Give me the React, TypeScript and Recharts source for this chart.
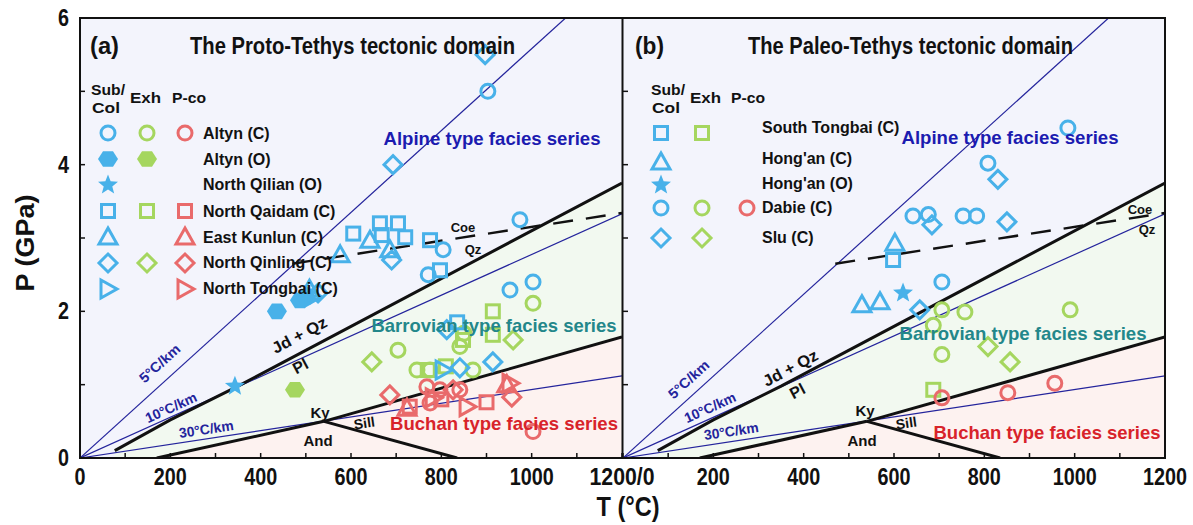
import React from 'react';
import { ComposedChart, XAxis, YAxis, Area, Line, Scatter } from 'recharts';

// ---- data: [T (°C), P (GPa)] ----
// (a) Proto-Tethys
const protoSubCircle = [[903, 5.0], [974, 3.25], [804, 2.84], [771, 2.5], [952, 2.29], [1003, 2.4]];
const protoSubHex = [[436, 2.0], [487, 2.15], [500, 2.2]];
const protoSubStar = [[343, 0.98]];
const protoSubSquare = [[605, 3.06], [664, 3.2], [704, 3.2], [668, 3.04], [720, 3.01], [775, 2.97], [797, 2.56], [835, 1.85]];
const protoSubTri = [[642, 2.97], [686, 2.84], [576, 2.77], [508, 2.3]];
const protoSubDiamond = [[693, 4.0], [897, 5.5], [690, 2.7], [527, 2.25], [812, 1.75], [841, 1.23], [914, 1.31]];
const protoSubRtri = [[515, 2.2], [804, 1.2]];
const protoExhCircle = [[704, 1.47], [1003, 2.11], [746, 1.2], [775, 1.2], [841, 1.52], [870, 1.2], [850, 1.7]];
const protoExhHex = [[476, 0.93]];
const protoExhSquare = [[914, 2.0], [914, 1.68], [848, 1.61], [770, 1.2], [810, 1.25]];
const protoExhDiamond = [[646, 1.31], [959, 1.61]];
const protoPcoCircle = [[1003, 0.36], [768, 0.97], [797, 0.93], [841, 0.93], [775, 0.75]];
const protoPcoSquare = [[900, 0.76], [730, 0.7], [800, 0.8]];
const protoPcoTri = [[724, 0.68], [945, 1.0]];
const protoPcoDiamond = [[686, 0.86], [956, 0.83], [826, 0.93]];
const protoPcoRtri = [[952, 1.02], [857, 0.7], [782, 0.82]];

// (b) Paleo-Tethys
const paleoSubSquare = [[598, 2.7]];
const paleoSubTri = [[602, 2.93], [529, 2.09], [569, 2.13]];
const paleoSubStar = [[620, 2.25]];
const paleoSubCircle = [[985, 4.5], [808, 4.02], [642, 3.3], [676, 3.32], [753, 3.3], [783, 3.3], [706, 2.4]];
const paleoSubDiamond = [[830, 3.8], [850, 3.22], [684, 3.18], [657, 2.02]];
const paleoExhSquare = [[687, 0.93]];
const paleoExhCircle = [[706, 2.02], [757, 1.99], [990, 2.02], [706, 1.41], [687, 1.81]];
const paleoExhDiamond = [[808, 1.52], [857, 1.31]];
const paleoPcoCircle = [[706, 0.82], [852, 0.89], [956, 1.02]];

// reaction / geotherm lines
const jdQzLine = [[77, 0.1], [200, 0.52], [350, 0.98], [1200, 3.75]];
const coeQzLine = [[470, 2.65], [1200, 3.34]];
const kyAndLine = [[170, 0], [540, 0.5]];
const andSillLine = [[540, 0.5], [835, 0]];
const kySillLine = [[540, 0.5], [1200, 1.65]];
const buchanEdge = [[170, 0], [540, 0.5], [1200, 1.65]];
const geo5 = [[0, 0], [1075, 6]];
const geo10 = [[0, 0], [1200, 3.33]];
const geo30 = [[0, 0], [1200, 1.12]];

const tTicks = [0, 100, 200, 300, 400, 500, 600, 700, 800, 900, 1000, 1100, 1200];
const pTicks = [0, 1, 2, 3, 4, 5, 6];

const pts = (a: number[][]) => a.map(([T, P]) => ({ T, P }));

const FONT = "'Liberation Sans', Arial, sans-serif";
const BLUE = '#48b1e9';
const GREEN = '#a5d65f';
const RED = '#e96a6b';
const NAVY = '#24249c';
const BG_TOP = '#f3f4fc';
const BG_MID = '#f2f9f0';
const BG_LOW = '#fdf2f0';

type Kind = 'circle' | 'hex' | 'star' | 'square' | 'tri' | 'diamond' | 'rtri';

function marker(kind: Kind, color: string, cx: number, cy: number, key?: any) {
  const sw = 3;
  switch (kind) {
    case 'circle':
      return <circle key={key} cx={cx} cy={cy} r={7} fill="none" stroke={color} strokeWidth={sw} />;
    case 'square':
      return <rect key={key} x={cx - 6.5} y={cy - 6.5} width={13} height={13} fill="none" stroke={color} strokeWidth={sw} />;
    case 'diamond':
      return <polygon key={key} points={`${cx},${cy - 9} ${cx + 9},${cy} ${cx},${cy + 9} ${cx - 9},${cy}`} fill="none" stroke={color} strokeWidth={sw} />;
    case 'tri':
      return <polygon key={key} points={`${cx},${cy - 9} ${cx + 9},${cy + 7} ${cx - 9},${cy + 7}`} fill="none" stroke={color} strokeWidth={sw} />;
    case 'rtri':
      return <polygon key={key} points={`${cx - 7},${cy - 9} ${cx + 9},${cy} ${cx - 7},${cy + 9}`} fill="none" stroke={color} strokeWidth={sw} />;
    case 'hex': {
      const p = [0, 60, 120, 180, 240, 300].map((a) => {
        const r = (a * Math.PI) / 180;
        return `${cx + 10 * Math.cos(r)},${cy + 9 * Math.sin(r)}`;
      });
      return <polygon key={key} points={p.join(' ')} fill={color} />;
    }
    case 'star': {
      const p: string[] = [];
      for (let i = 0; i < 10; i++) {
        const r = i % 2 === 0 ? 10.5 : 4.5;
        const a = -Math.PI / 2 + (i * Math.PI) / 5;
        p.push(`${cx + r * Math.cos(a)},${cy + r * Math.sin(a)}`);
      }
      return <polygon key={key} points={p.join(' ')} fill={color} />;
    }
  }
  return null;
}

type Series = { data: number[][]; kind: Kind; color: string };

const protoSeries: Series[] = [
  { data: protoExhCircle, kind: 'circle', color: GREEN },
  { data: protoExhHex, kind: 'hex', color: GREEN },
  { data: protoExhSquare, kind: 'square', color: GREEN },
  { data: protoExhDiamond, kind: 'diamond', color: GREEN },
  { data: protoPcoCircle, kind: 'circle', color: RED },
  { data: protoPcoSquare, kind: 'square', color: RED },
  { data: protoPcoTri, kind: 'tri', color: RED },
  { data: protoPcoDiamond, kind: 'diamond', color: RED },
  { data: protoPcoRtri, kind: 'rtri', color: RED },
  { data: protoSubCircle, kind: 'circle', color: BLUE },
  { data: protoSubHex, kind: 'hex', color: BLUE },
  { data: protoSubStar, kind: 'star', color: BLUE },
  { data: protoSubSquare, kind: 'square', color: BLUE },
  { data: protoSubTri, kind: 'tri', color: BLUE },
  { data: protoSubDiamond, kind: 'diamond', color: BLUE },
  { data: protoSubRtri, kind: 'rtri', color: BLUE },
];

const paleoSeries: Series[] = [
  { data: paleoExhSquare, kind: 'square', color: GREEN },
  { data: paleoExhCircle, kind: 'circle', color: GREEN },
  { data: paleoExhDiamond, kind: 'diamond', color: GREEN },
  { data: paleoPcoCircle, kind: 'circle', color: RED },
  { data: paleoSubSquare, kind: 'square', color: BLUE },
  { data: paleoSubTri, kind: 'tri', color: BLUE },
  { data: paleoSubStar, kind: 'star', color: BLUE },
  { data: paleoSubCircle, kind: 'circle', color: BLUE },
  { data: paleoSubDiamond, kind: 'diamond', color: BLUE },
];

function XTick(props: any) {
  const { x, y, payload, side } = props;
  const v = payload.value as number;
  let s = v % 200 === 0 ? String(v) : '';
  if (side === 'L' && v === 1200) s = '1200/0';
  if (side === 'R' && v === 0) s = '';
  if (!s) return null;
  const w = s === '1200/0' ? 65 : s.length * 11;
  return (
    <text x={x} y={y + 17} textAnchor="middle" fontFamily={FONT} fontWeight="bold" fontSize={23} fill="#111" textLength={w} lengthAdjust="spacingAndGlyphs">
      {s}
    </text>
  );
}

function YTick(props: any) {
  const { x, y, payload, show } = props;
  const v = payload.value as number;
  if (!show || v % 2 !== 0) return null;
  return (
    <text x={x} y={y + 8} textAnchor="end" fontFamily={FONT} fontWeight="bold" fontSize={23} fill="#111" textLength={11} lengthAdjust="spacingAndGlyphs">
      {v}
    </text>
  );
}

// left chart is wider than its plot so the "1200/0" label is not clipped
function Panel({ side, series }: { side: 'L' | 'R'; series: Series[] }) {
  const isL = side === 'L';
  return (
    <ComposedChart width={isL ? 680 : 571} height={525} margin={{ top: 18, right: isL ? 58 : 28, bottom: 0, left: 0 }}>
      <XAxis type="number" dataKey="T" domain={[0, 1200]} ticks={tTicks} interval={0} height={67} tickSize={-5} tickMargin={15} axisLine={false} tickLine={{ stroke: '#111', strokeWidth: 1.5 }} tick={<XTick side={side} />} allowDataOverflow />
      <YAxis type="number" dataKey="P" domain={[0, 6]} ticks={pTicks} interval={0} width={isL ? 80 : 1} tickSize={-5} tickMargin={16} axisLine={false} tickLine={{ stroke: '#111', strokeWidth: 1.5 }} tick={<YTick show={isL} />} allowDataOverflow />
      <Area data={pts(jdQzLine)} dataKey="P" type="linear" stroke="none" fill={BG_MID} fillOpacity={1} dot={false} activeDot={false} isAnimationActive={false} />
      <Area data={pts(buchanEdge)} dataKey="P" type="linear" stroke="none" fill={BG_LOW} fillOpacity={1} dot={false} activeDot={false} isAnimationActive={false} />
      {[geo5, geo10, geo30].map((g, i) => (
        <Line key={`g${i}`} data={pts(g)} dataKey="P" type="linear" stroke={NAVY} strokeWidth={1.2} dot={false} activeDot={false} isAnimationActive={false} />
      ))}
      {[jdQzLine, kyAndLine, andSillLine, kySillLine].map((g, i) => (
        <Line key={`r${i}`} data={pts(g)} dataKey="P" type="linear" stroke="#111" strokeWidth={3} dot={false} activeDot={false} isAnimationActive={false} />
      ))}
      <Line data={pts(coeQzLine)} dataKey="P" type="linear" stroke="#111" strokeWidth={2.5} strokeDasharray="20 13" dot={false} activeDot={false} isAnimationActive={false} />
      {series.map((s, i) => (
        <Scatter key={`s${i}`} data={pts(s.data)} isAnimationActive={false} shape={(p: any) => marker(s.kind, s.color, p.cx, p.cy)} />
      ))}
    </ComposedChart>
  );
}

function Txt({ x, y, s, size = 16, color = '#111', rot = 0, len, anchor = 'start', weight = 'bold' }: any) {
  return (
    <text x={0} y={0} transform={`translate(${x},${y}) rotate(${rot})`} textAnchor={anchor} fontFamily={FONT} fontWeight={weight} fontSize={size} fill={color} textLength={len} lengthAdjust={len ? 'spacingAndGlyphs' : undefined}>
      {s}
    </text>
  );
}

type LegendRow = { label: string; ty: number; sy: number; kind: Kind; cols: number[] };
const COLORS = [BLUE, GREEN, RED];

const protoLegend: LegendRow[] = [
  { label: 'Altyn (C)', ty: 133, sy: 133, kind: 'circle', cols: [0, 1, 2] },
  { label: 'Altyn (O)', ty: 159, sy: 159, kind: 'hex', cols: [0, 1] },
  { label: 'North Qilian (O)', ty: 184, sy: 185, kind: 'star', cols: [0] },
  { label: 'North Qaidam (C)', ty: 211, sy: 211, kind: 'square', cols: [0, 1, 2] },
  { label: 'East Kunlun (C)', ty: 237, sy: 237, kind: 'tri', cols: [0, 2] },
  { label: 'North Qinling (C)', ty: 262, sy: 263, kind: 'diamond', cols: [0, 1, 2] },
  { label: 'North Tongbai (C)', ty: 288, sy: 289, kind: 'rtri', cols: [0, 2] },
];
const paleoLegend: LegendRow[] = [
  { label: 'South Tongbai (C)', ty: 127, sy: 133, kind: 'square', cols: [0, 1] },
  { label: "Hong'an (C)", ty: 158, sy: 162, kind: 'tri', cols: [0] },
  { label: "Hong'an (O)", ty: 183, sy: 185, kind: 'star', cols: [0] },
  { label: 'Dabie (C)', ty: 207, sy: 208, kind: 'circle', cols: [0, 1, 2] },
  { label: 'Slu (C)', ty: 237, sy: 238, kind: 'diamond', cols: [0, 1] },
];

function Legend({ rows, colX, textX, hx }: { rows: LegendRow[]; colX: number[]; textX: number; hx: number[] }) {
  return (
    <g>
      <Txt x={hx[0]} y={95} s="Sub/" size={15} len={34} />
      <Txt x={hx[0] + 1} y={113} s="Col" size={15} len={28} />
      <Txt x={hx[1]} y={103} s="Exh" size={15} len={31} />
      <Txt x={hx[2]} y={103} s="P-co" size={15} len={34} />
      {rows.map((r, i) => (
        <g key={i}>
          {r.cols.map((c) => marker(r.kind, COLORS[c], colX[c], r.sy, c))}
          <Txt x={textX} y={r.ty + 6} s={r.label} size={16} />
        </g>
      ))}
    </g>
  );
}

function Overlay() {
  return (
    <svg width={1193} height={525} style={{ position: 'absolute', left: 0, top: 0, pointerEvents: 'none' }}>
      <rect x={80} y={18} width={1085} height={440} fill="none" stroke="#111" strokeWidth={2} />
      <line x1={622.5} y1={18} x2={622.5} y2={458} stroke="#111" strokeWidth={2} />

      <Txt x={34} y={243} s="P (GPa)" size={26} rot={-90} anchor="middle" len={97} />
      <Txt x={628} y={516} s="T (°C)" size={28} anchor="middle" len={63} />

      <Txt x={90} y={54} s="(a)" size={24} len={29} />
      <Txt x={190} y={54} s="The Proto-Tethys tectonic domain" size={24} len={325} />
      <Txt x={635} y={54} s="(b)" size={24} len={29} />
      <Txt x={748} y={54} s="The Paleo-Tethys tectonic domain" size={24} len={325} />

      <Legend rows={protoLegend} colX={[108, 147, 185]} textX={203} hx={[91, 130, 172]} />
      <Legend rows={paleoLegend} colX={[661, 702, 747]} textX={762} hx={[651, 690, 731]} />

      {/* facies series */}
      <Txt x={492} y={145} s="Alpine type facies series" size={19} color="#1b1bb0" anchor="middle" len={217} />
      <Txt x={1010} y={144} s="Alpine type facies series" size={19} color="#1b1bb0" anchor="middle" len={217} />
      <Txt x={494} y={332} s="Barrovian type facies series" size={19} color="#23878a" anchor="middle" len={245} />
      <Txt x={1023} y={340} s="Barrovian type facies series" size={19} color="#23878a" anchor="middle" len={247} />
      <Txt x={504} y={430} s="Buchan type facies series" size={19} color="#d8232a" anchor="middle" len={228} />
      <Txt x={1047} y={439} s="Buchan type facies series" size={19} color="#d8232a" anchor="middle" len={227} />

      {[0, 1].map((i) => (
        <g key={i}>
          <Txt x={i ? 1140 : 463} y={i ? 214 : 232} s="Coe" size={13} anchor="middle" />
          <Txt x={i ? 1147 : 473} y={i ? 234 : 254} s="Qz" size={13} anchor="middle" />
          <Txt x={i ? 793 : 302} y={i ? 373 : 340} s="Jd + Qz" size={16} rot={-28} anchor="middle" len={60} />
          <Txt x={i ? 800 : 303} y={i ? 396 : 371} s="Pl" size={16} rot={-28} anchor="middle" />
          <Txt x={i ? 865 : 320} y={i ? 416 : 418} s="Ky" size={15} anchor="middle" />
          <Txt x={i ? 907 : 365} y={428} s="Sill" size={14} rot={-8} anchor="middle" />
          <Txt x={i ? 862 : 318} y={446} s="And" size={15} anchor="middle" />
          <Txt x={i ? 692 : 163} y={i ? 383 : 367} s="5°C/km" size={14} rot={-42} anchor="middle" color={NAVY} len={50} />
          <Txt x={i ? 712 : 173} y={412} s="10°C/km" size={14} rot={-24} anchor="middle" color={NAVY} len={55} />
          <Txt x={i ? 732 : 207} y={i ? 436 : 434} s="30°C/km" size={14} rot={-8.6} anchor="middle" color={NAVY} len={55} />
        </g>
      ))}
    </svg>
  );
}

export default function App() {
  return (
    <div style={{ position: 'absolute', left: 0, top: 0, width: 1193, height: 525, background: '#fff', overflow: 'hidden' }}>
      <div style={{ position: 'absolute', left: 80, top: 18, width: 1085, height: 440, background: BG_TOP }} />
      <div style={{ position: 'absolute', left: 0, top: 0 }}>
        <Panel side="L" series={protoSeries} />
      </div>
      <div style={{ position: 'absolute', left: 622, top: 0 }}>
        <Panel side="R" series={paleoSeries} />
      </div>
      <Overlay />
    </div>
  );
}
